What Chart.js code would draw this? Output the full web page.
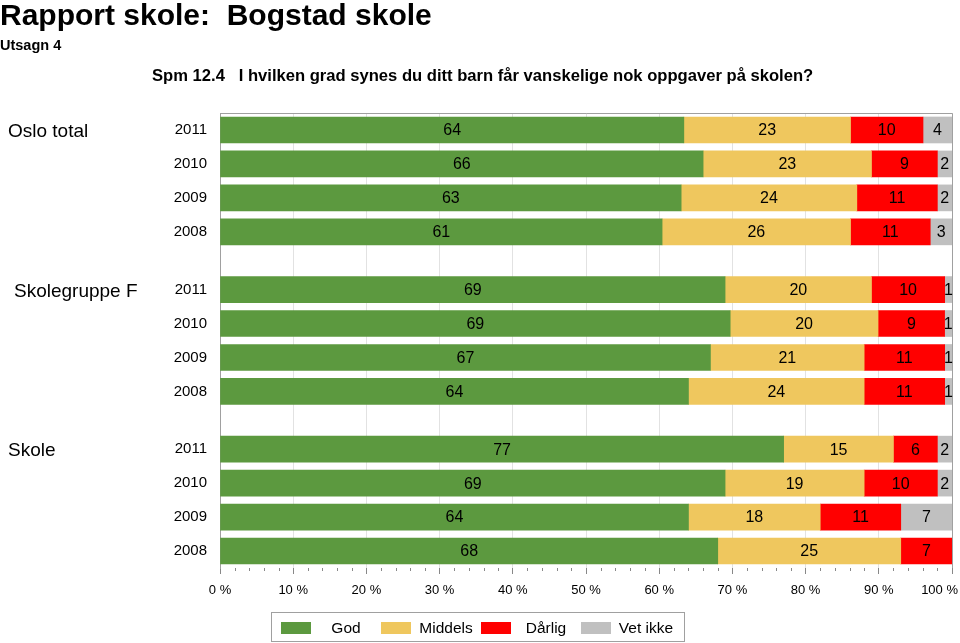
<!DOCTYPE html>
<html>
<head>
<meta charset="utf-8">
<script src="https://cdn.jsdelivr.net/npm/chart.js@4.4.0/dist/chart.umd.min.js"></script>
<style>
    body { margin: 0; background: #fff; }
    #wrap { position: relative; width: 960px; height: 643px; font-family: "Liberation Sans", Arial, sans-serif; }
    #wrap canvas { position: absolute; left: 0; top: 0; }
    .t { position: absolute; font-weight: bold; color: #000; white-space: pre; line-height: 1; }
</style>
</head>
<body>
<div id="wrap">
    <canvas id="chart" width="960" height="643"></canvas>
    <div class="t" style="left:0;top:0;font-size:30px">Rapport skole:  Bogstad skole</div>
    <div class="t" style="left:0;top:38px;font-size:14.5px">Utsagn 4</div>
    <div class="t" style="left:152px;top:68px;font-size:16.6px">Spm 12.4   I hvilken grad synes du ditt barn får vanskelige nok oppgaver på skolen?</div>
</div>
<script>
// groups and years, top to bottom
var groups = ['Oslo total', 'Skolegruppe F', 'Skole'];
var years = ['2011', '2010', '2009', '2008'];

// share per row (Oslo total 2011..2008, Skolegruppe F 2011..2008, Skole 2011..2008)
var god     = [64, 66, 63, 61,  69, 69, 67, 64,  77, 69, 64, 68];
var middels = [23, 23, 24, 26,  20, 20, 21, 24,  15, 19, 18, 25];
var darlig  = [10,  9, 11, 11,  10,  9, 11, 11,   6, 10, 11,  7];
var vetIkke = [ 4,  2,  2,  3,   1,  1,  1,  1,   2,  2,  7,  0];

var seriesNames = ['God', 'Middels', 'Dårlig', 'Vet ikke'];
var seriesColors = ['#5c993f', '#efc75e', '#ff0000', '#c0c0c0'];

var FONT = '"Liberation Sans", Arial, sans-serif';
var GROUP_GAP = 0.7;   // extra space between the groups, in rows

// row position on the y scale: 4 rows per group plus a gap
var rowPos = god.map(function (v, i) {
    return Math.floor(i / years.length) * (years.length + GROUP_GAP) + (i % years.length);
});
var series = [god, middels, darlig, vetIkke];
var totals = god.map(function (v, i) {
    return series.reduce(function (s, arr) { return s + arr[i]; }, 0);
});

var datasets = series.map(function (arr, k) {
    return {
        label: seriesNames[k],
        backgroundColor: seriesColors[k],
        borderWidth: 0,
        barThickness: 26,
        rawValues: arr,
        data: arr.map(function (v, i) { return { x: v / totals[i] * 100, y: rowPos[i] }; })
    };
});

function pctLabel(v) { return v + ' %'; }

// frame on top / right of the plot, minor ticks on the x axis
var framePlugin = {
    id: 'frame',
    beforeDatasetsDraw: function (chart) {
        var a = chart.chartArea, ctx = chart.ctx;
        ctx.save();
        ctx.strokeStyle = '#a0a0a0';
        ctx.lineWidth = 1;
        ctx.beginPath();
        ctx.moveTo(a.left, a.top + 0.5);
        ctx.lineTo(a.right + 0.5, a.top + 0.5);
        ctx.lineTo(a.right + 0.5, a.bottom);
        ctx.stroke();
        var x = chart.scales.x;
        ctx.strokeStyle = '#888';
        for (var v = 2; v < 100; v += 2) {
            if (v % 10 === 0) continue;
            var px = Math.round(x.getPixelForValue(v)) + 0.5;
            ctx.beginPath();
            ctx.moveTo(px, a.bottom);
            ctx.lineTo(px, a.bottom + 3);
            ctx.stroke();
        }
        ctx.restore();
    }
};

// last x label is pulled inside the canvas, like the original
var lastTick = {
    id: 'lastTick',
    afterDraw: function (chart) {
        var ctx = chart.ctx, x = chart.scales.x;
        ctx.save();
        ctx.font = '13px ' + FONT;
        ctx.fillStyle = '#000';
        ctx.textAlign = 'right';
        ctx.textBaseline = 'top';
        ctx.fillText(pctLabel(x.max), chart.width - 2, chart.chartArea.bottom + 16);
        ctx.restore();
    }
};

// numbers inside the segments
var valueLabels = {
    id: 'valueLabels',
    afterDatasetsDraw: function (chart) {
        var ctx = chart.ctx;
        ctx.save();
        ctx.font = '16px ' + FONT;
        ctx.fillStyle = '#000';
        ctx.textAlign = 'center';
        ctx.textBaseline = 'middle';
        chart.data.datasets.forEach(function (ds, k) {
            chart.getDatasetMeta(k).data.forEach(function (el, i) {
                var v = ds.rawValues[i];
                if (!v) return;
                ctx.fillText(String(v), (el.x + el.base) / 2, el.y + 1);
            });
        });
        ctx.restore();
    }
};

// group names at the far left
var groupLabels = {
    id: 'groupLabels',
    afterDraw: function (chart) {
        var ctx = chart.ctx, y = chart.scales.y;
        ctx.save();
        ctx.font = '19px ' + FONT;
        ctx.fillStyle = '#000';
        ctx.textAlign = 'left';
        ctx.textBaseline = 'middle';
        groups.forEach(function (g, n) {
            ctx.fillText(g, n === 1 ? 14 : 8, y.getPixelForValue(rowPos[n * years.length]) + 2);
        });
        ctx.restore();
    }
};

// boxed legend under the axis, fixed-width items
var boxLegend = {
    id: 'boxLegend',
    afterDraw: function (chart) {
        var ctx = chart.ctx;
        var itemW = 100, boxW = 30, boxH = 12;
        var n = chart.data.datasets.length;
        var left = Math.round(chart.width / 2 - n * itemW / 2 + 1);
        var top = 612, h = 29, mid = 628;
        ctx.save();
        ctx.strokeStyle = '#a0a0a0';
        ctx.lineWidth = 1;
        ctx.strokeRect(left - 9.5, top + 0.5, n * itemW + 13, h);
        ctx.font = '15.5px ' + FONT;
        ctx.textAlign = 'center';
        ctx.textBaseline = 'middle';
        chart.data.datasets.forEach(function (ds, k) {
            var x = left + k * itemW;
            ctx.fillStyle = ds.backgroundColor;
            ctx.fillRect(x, mid - boxH / 2, boxW, boxH);
            ctx.fillStyle = '#000';
            ctx.fillText(ds.label, x + boxW + (itemW - boxW) / 2, mid + 1);
        });
        ctx.restore();
    }
};

var ctx = document.getElementById('chart').getContext('2d');
var chart = new Chart(ctx, {
    type: 'bar',
    data: { datasets: datasets },
    plugins: [framePlugin, valueLabels, groupLabels, boxLegend, lastTick],
    options: {
        responsive: false,
        animation: false,
        indexAxis: 'y',
        layout: { padding: { top: 113, right: 8, bottom: 45, left: 0 } },
        plugins: {
            legend: { display: false },
            tooltip: { enabled: false }
        },
        scales: {
            x: {
                type: 'linear',
                stacked: true,
                min: 0,
                max: 100,
                offset: false,
                afterFit: function (s) {
                    s.height = 30;
                    s.paddingLeft = 0;
                    s.paddingRight = 0;
                },
                ticks: {
                    stepSize: 10,
                    autoSkip: false,
                    maxRotation: 0,
                    padding: 9,
                    color: '#000',
                    font: { family: FONT, size: 13 },
                    callback: function (v) { return v < 100 ? pctLabel(v) : ''; }
                },
                grid: { color: '#e2e2e2', tickColor: '#888', tickLength: 6, offset: false },
                border: { display: false }
            },
            y: {
                type: 'linear',
                stacked: true,
                reverse: true,
                offset: false,
                bounds: 'data',
                min: -0.5,
                max: rowPos[rowPos.length - 1] + 0.5,
                afterFit: function (s) {
                    s.width = 220;
                    s.paddingTop = 0;
                    s.paddingBottom = 0;
                },
                afterBuildTicks: function (s) {
                    s.ticks = rowPos.map(function (v) { return { value: v }; });
                },
                ticks: {
                    autoSkip: false,
                    padding: 13,
                    color: '#000',
                    font: { family: FONT, size: 15 },
                    callback: function (v, i) { return years[i % years.length]; }
                },
                grid: { display: false, drawTicks: false, offset: false },
                border: { display: true, color: '#a0a0a0' }
            }
        }
    }
});
</script>
</body>
</html>
